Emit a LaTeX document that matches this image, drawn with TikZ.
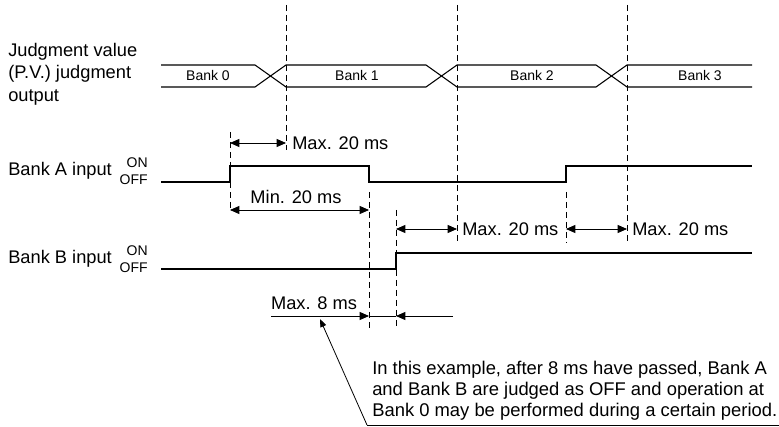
\documentclass[tikz,border=0pt]{standalone}
\usepackage{fontspec}
\setmainfont{Liberation Sans}
\usetikzlibrary{arrows.meta}

\tikzset{
  sig/.style={line width=0.8pt},
  guide/.style={dash pattern=on 4.5pt off 3pt, line width=0.6pt},
  dim/.style={line width=0.6pt, >={Triangle[length=7pt,width=6pt]}},
  lbl/.style={inner sep=0pt, font=\fontsize{13.7}{17}\selectfont},
  small/.style={inner sep=0pt, font=\fontsize{10.5}{12}\selectfont},
}

\begin{document}
\begin{tikzpicture}[x=0.75pt, y=-0.75pt]
    \useasboundingbox (0,0) rectangle (779,427);

    % Signal names
    \node[lbl, anchor=west, align=left] (jv) at (8,74) {Judgment value\\(P.V.) judgment\\output};
    \node[lbl, anchor=west] (ina) at (8,171) {Bank A input};
    \node[lbl, anchor=west] (inb) at (8,259) {Bank B input};
    \node[small, anchor=east] (aon) at (148,163) {ON};
    \node[small, anchor=east] (aoff) at (148,180) {OFF};
    \node[small, anchor=east] (bon) at (148,251) {ON};
    \node[small, anchor=east] (boff) at (148,268) {OFF};

    % Judgment output bus
    \draw[sig] (161,65) -- (255,65) -- (286,87) -- (426,87) -- (457,65) -- (596,65) -- (627,87) -- (752,87);
    \draw[sig] (161,87) -- (255,87) -- (286,65) -- (426,65) -- (457,87) -- (596,87) -- (627,65) -- (752,65);
    \foreach \x/\b in {208/0, 357/1, 532/2, 700/3}
      \node[small] (bank\b) at (\x,76) {Bank \b};

    % Bank A and Bank B inputs
    \draw[sig] (161,182) -- (230,182) -- (230,166) -- (369,166) -- (369,182) -- (566,182) -- (566,166) -- (752,166);
    \draw[sig] (161,269) -- (396,269) -- (396,253) -- (752,253);

    % Timing guides
    \draw[guide] (286,5) -- (286,150);
    \draw[guide] (457,5) -- (457,243);
    \draw[guide] (627,5) -- (627,243);
    \draw[guide] (230,132) -- (230,212);
    \draw[guide] (369,192) -- (369,328);
    \draw[guide] (396,210) -- (396,328);
    \draw[guide] (566,192) -- (566,243);

    % Dimension points
    \coordinate (a1) at (230,143);  \coordinate (a2) at (286,143);
    \coordinate (m1) at (230,210);  \coordinate (m2) at (369,210);
    \coordinate (b1) at (396,229);  \coordinate (b2) at (457,229);
    \coordinate (c1) at (566,229);  \coordinate (c2) at (627,229);
    \coordinate (e0) at (271,316);  \coordinate (e1) at (369,316);
    \coordinate (e2) at (396,316);  \coordinate (e3) at (453,316);

    % Dimension arrows
    \draw[dim, <->] (a1) -- (a2);
    \draw[dim, <->] (m1) -- (m2);
    \draw[dim, <->] (b1) -- (b2);
    \draw[dim, <->] (c1) -- (c2);
    \draw[dim, ->] (e0) -- (e1);
    \draw[dim] (e1) -- (e2);
    \draw[dim, ->] (e3) -- (e2);

    \node[lbl, anchor=west] (tmax1) at (292,143) {Max. 20 ms};
    \node[lbl] (tmin) at (296,197) {Min. 20 ms};
    \node[lbl, anchor=west] (tmax2) at (462,229) {Max. 20 ms};
    \node[lbl, anchor=west] (tmax3) at (632,229) {Max. 20 ms};
    \node[lbl] (tmax8) at (314,303) {Max. 8 ms};

    % Note with leader
    \coordinate (lead) at (320,319);
    \coordinate (foot) at (367,425);
    \coordinate (end) at (779,425);
    \draw[dim, -{Triangle[length=6pt,width=4.5pt]}] (foot) -- (lead);
    \draw[dim] (foot) -- (end);
    \node[lbl, anchor=south west, align=left, font=\fontsize{13.8}{15.8}\selectfont] (note) at (372,421)
      {In this example, after 8 ms have passed, Bank A\\and Bank B are judged as OFF and operation at\\Bank 0 may be performed during a certain period.};
\end{tikzpicture}
\end{document}
